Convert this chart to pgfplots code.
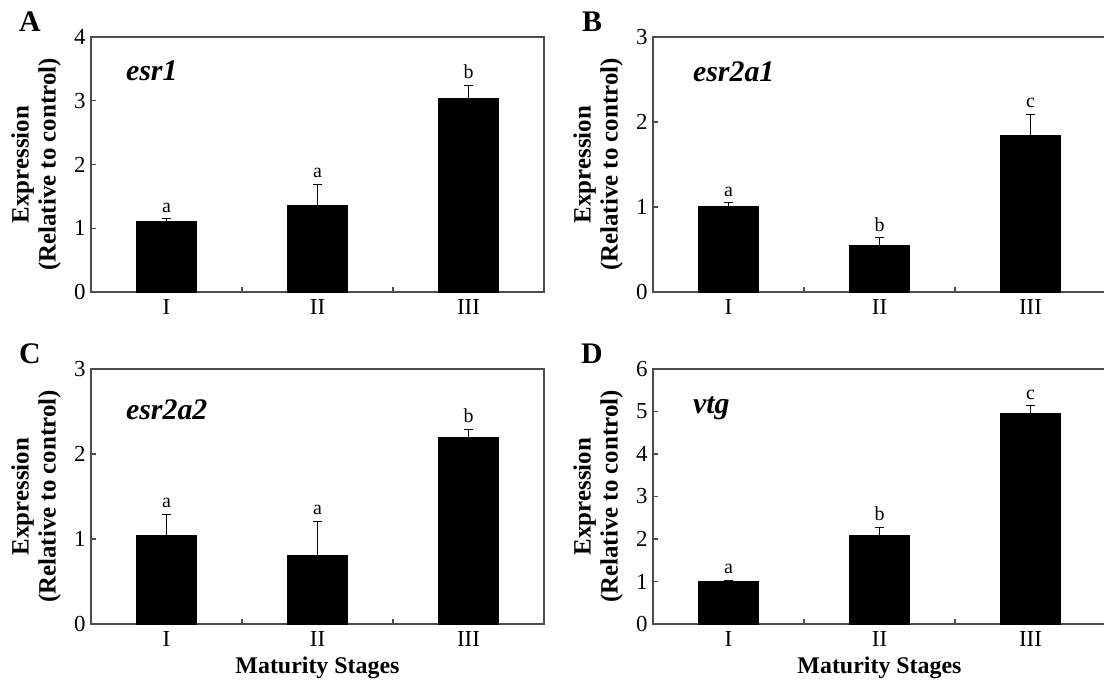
\documentclass[border=0pt]{standalone}
\usepackage{fontspec}
\setmainfont{Liberation Serif}
\usepackage{pgfplots}
\pgfplotsset{compat=1.18}

\pgfplotsset{
  panel/.style={
    scale only axis, width=226.5bp, height=127.5bp,
    anchor=north west, clip=false,
    xmin=0.5, xmax=3.5, ymin=0,
    axis line style={black!70, line width=0.8bp},
    xtick={1.5,2.5}, xticklabels={,},
    extra x ticks={1,2,3}, extra x tick labels={I,II,III},
    extra x tick style={major tick length=0pt},
    tick align=inside, tick pos=left,
    major tick length=2.5bp,
    tick style={black!70, line width=0.6bp},
    /pgf/number format/assume math mode=true,
    tick label style={font=\fontsize{11.5}{13}\selectfont},
    yticklabel style={inner sep=2.5bp},
    ylabel={Expression\\(Relative to control)},
    ylabel style={at={(axis description cs:-0.121,0.5)}, anchor=center,
      align=center, font=\bfseries\fontsize{12.5}{13.5}\selectfont},
    xlabel style={at={(axis description cs:0.5,0)}, anchor=center, yshift=-22bp,
      font=\bfseries\fontsize{12}{14}\selectfont},
  },
  bars/.style={ybar, fill=black, draw=black, bar width=0.4,
    error bars/.cd, y dir=plus, y explicit,
    error bar style={line width=0.5bp, black},
    error mark options={rotate=90, mark size=2.25bp, line width=0.5bp, black}},
  letters/.style={draw=none, nodes near coords, point meta=explicit symbolic,
    nodes near coords style={anchor=south, inner sep=0pt, yshift=3bp,
      font=\fontsize{10}{11}\selectfont}},
}
\newcommand{\plabel}[1]{\node[font=\bfseries\fontsize{15}{16}\selectfont, anchor=center]
  at (rel axis cs:0,1) [xshift=-30.5bp, yshift=7.5bp] {#1};}
\newcommand{\gene}[3]{\node[font=\bfseries\itshape\fontsize{15}{17}\selectfont, anchor=west]
  at (rel axis cs:0,1) [xshift=#2, yshift=#3] {#1};}

\begin{document}
\begin{tikzpicture}
\useasboundingbox (0,0) rectangle (552bp,-342bp);

% A: esr1
\begin{axis}[panel, at={(45.5bp,-18.5bp)}, ymax=4, ytick={0,1,2,3,4}]
  \addplot[bars] coordinates {(1,1.10) +- (0,0.05) (2,1.36) +- (0,0.33) (3,3.04) +- (0,0.20)};
  \addplot[letters] coordinates {(1,1.15)[a] (2,1.69)[a] (3,3.24)[b]};
  \plabel{A}
  \gene{esr1}{14bp}{-17bp}
\end{axis}

% B: esr2a1
\begin{axis}[panel, at={(326.5bp,-18.5bp)}, ymax=3, ytick={0,1,2,3}]
  \addplot[bars] coordinates {(1,1.01) +- (0,0.04) (2,0.55) +- (0,0.09) (3,1.84) +- (0,0.25)};
  \addplot[letters] coordinates {(1,1.05)[a] (2,0.64)[b] (3,2.09)[c]};
  \plabel{B}
  \gene{esr2a1}{16.5bp}{-17.5bp}
\end{axis}

% C: esr2a2
\begin{axis}[panel, at={(45.5bp,-184.5bp)}, ymax=3, ytick={0,1,2,3},
  xlabel={Maturity Stages}]
  \addplot[bars] coordinates {(1,1.04) +- (0,0.25) (2,0.81) +- (0,0.40) (3,2.19) +- (0,0.10)};
  \addplot[letters] coordinates {(1,1.29)[a] (2,1.21)[a] (3,2.29)[b]};
  \plabel{C}
  \gene{esr2a2}{14bp}{-20.5bp}
\end{axis}

% D: vtg
\begin{axis}[panel, at={(326.5bp,-184.5bp)}, ymax=6, ytick={0,1,2,3,4,5,6},
  xlabel={Maturity Stages}]
  \addplot[bars] coordinates {(1,1.00) +- (0,0.03) (2,2.09) +- (0,0.18) (3,4.96) +- (0,0.17)};
  \addplot[letters] coordinates {(1,1.03)[a] (2,2.27)[b] (3,5.13)[c]};
  \plabel{D}
  \gene{vtg}{16.5bp}{-19.5bp}
\end{axis}
\end{tikzpicture}
\end{document}
